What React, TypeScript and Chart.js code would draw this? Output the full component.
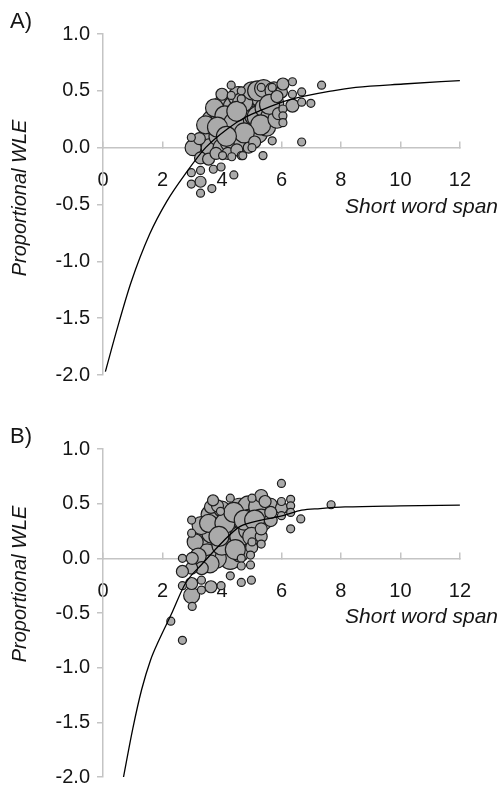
import React, { useEffect, useRef } from 'react';
import { Chart, registerables } from 'chart.js';
Chart.register(...registerables);

const FONT = '"Liberation Sans", Arial, Helvetica, sans-serif';

// X tick values / labels
const X_TICKS = [0, 2, 4, 6, 8, 10, 12];
const Y_TICKS = [-2.0, -1.5, -1.0, -0.5, 0.0, 0.5, 1.0];

// ---------- Panel A ----------
const A_BIG_X = [3.3, 3.6, 3.6, 3.66, 3.9, 3.95, 4.0, 4.07, 4.18, 4.28, 4.3, 4.38, 4.49, 4.6, 4.7, 4.8, 4.9, 4.9, 5.01, 5.1, 5.22, 5.22, 5.32, 5.45, 5.58, 5.64, 5.74, 5.5, 3.45, 3.75, 4.1, 4.55, 4.7, 4.4, 5.0, 5.2, 5.4, 5.75, 5.3, 4.75, 5.85, 3.85, 4.15, 4.5, 5.6];
const A_BIG_Y = [0.05, 0.12, 0.0, 0.24, 0.1, 0.3, 0.0, 0.4, 0.21, 0.05, 0.3, 0.36, 0.15, 0.27, 0.05, 0.36, 0.18, 0.42, 0.39, 0.28, 0.27, 0.12, 0.45, 0.35, 0.47, 0.27, 0.39, 0.18, 0.2, 0.35, 0.28, 0.45, 0.4, 0.22, 0.5, 0.5, 0.52, 0.5, 0.2, 0.13, 0.25, 0.18, 0.1, 0.32, 0.38];
const A_BIG_R = [9, 10, 9, 10, 10, 10, 9, 9, 11, 10, 10, 10, 11, 11, 9, 10, 10, 9, 11, 10, 11, 9, 11, 10, 11, 10, 10, 9, 9, 9, 10, 10, 10, 10, 9, 10, 9, 9, 10, 10, 9, 10, 10, 10, 10];

const A_MED_X = [3.03, 3.24, 3.28, 3.28, 3.55, 3.8, 4.2, 4.0, 4.5, 4.9, 5.1, 6.0, 6.05, 6.37, 5.9, 5.85];
const A_MED_Y = [0.0, 0.08, -0.09, -0.3, -0.1, -0.05, -0.05, 0.47, -0.02, 0.0, 0.05, 0.49, 0.56, 0.37, 0.3, 0.45];
const A_MED_R = [8, 6, 6, 5.5, 6, 6, 6, 6, 6, 5.5, 6, 6, 6, 6.5, 6, 6];

const A_SMALL_X = [2.97, 3.28, 2.97, 2.97, 3.28, 3.66, 3.71, 3.97, 4.02, 4.33, 4.4, 4.65, 4.31, 4.31, 4.65, 4.65, 5.69, 5.32, 6.37, 7.35, 6.68, 6.37, 6.68, 6.99, 6.05, 6.05, 6.05, 5.69, 6.68, 5.38, 5.01, 4.7];
const A_SMALL_Y = [0.09, -0.2, -0.22, -0.32, -0.4, -0.36, -0.19, -0.17, -0.07, -0.08, -0.24, -0.07, 0.55, 0.46, 0.5, 0.43, 0.53, 0.53, 0.58, 0.55, 0.49, 0.47, 0.4, 0.39, 0.34, 0.28, 0.22, 0.06, 0.05, -0.07, 0.0, -0.07];

const A_CURVE_X = [0.08, 0.48, 0.95, 1.57, 2.15, 2.77, 3.45, 4.18, 4.8, 5.32, 6.26, 7.72, 8.5, 10.1, 12.0];
const A_CURVE_Y = [-1.97, -1.59, -1.18, -0.76, -0.47, -0.23, 0.0, 0.165, 0.27, 0.33, 0.42, 0.5, 0.53, 0.56, 0.59];

// ---------- Panel B ----------
const B_BIG_X = [3.34, 3.66, 3.87, 4.28, 4.28, 4.6, 4.6, 4.9, 4.96, 4.9, 5.27, 5.32, 4.28, 3.81, 3.5, 3.1, 3.6, 4.0, 4.6, 4.0, 2.98, 3.3, 3.55, 4.1, 4.4, 3.9, 4.75, 5.1, 4.45, 3.6, 5.0, 3.2];
const B_BIG_Y = [0.17, 0.23, 0.35, 0.32, 0.2, 0.44, 0.2, 0.47, 0.35, 0.26, 0.47, 0.35, 0.0, 0.0, 0.05, 0.15, 0.4, 0.12, 0.05, 0.45, -0.34, 0.3, 0.32, 0.32, 0.42, 0.2, 0.35, 0.35, 0.08, -0.05, 0.2, 0.02];
const B_BIG_R = [10, 10, 10, 11, 11, 12, 10, 11, 11, 10, 11, 11, 11, 10, 9, 8, 9, 10, 9, 8, 8, 9, 9, 10, 10, 10, 10, 10, 10, 9, 9, 8];

const B_MED_X = [3.63, 5.32, 5.64, 6.0, 5.64, 5.32, 3.32, 2.98, 2.67, 2.98, 3.63, 3.0, 5.0, 5.32, 5.64, 5.45, 3.85, 3.7];
const B_MED_Y = [0.47, 0.57, 0.49, 0.46, 0.35, 0.2, -0.09, -0.09, -0.12, -0.23, -0.26, 0.0, 0.1, 0.27, 0.42, 0.52, 0.48, 0.53];
const B_MED_R = [6.5, 6.5, 6.5, 6, 6.5, 6, 6.5, 6, 6, 6, 6, 6, 6, 6, 6, 6, 6, 5.5];

const B_SMALL_X = [6.0, 5.01, 4.28, 3.95, 2.98, 2.98, 6.0, 6.31, 6.31, 6.31, 6.0, 6.65, 6.31, 7.67, 5.32, 5.01, 4.65, 4.65, 4.96, 4.28, 4.65, 4.99, 3.97, 2.67, 2.67, 3.31, 3.31, 3.0, 2.28, 2.67, 4.96];
const B_SMALL_Y = [0.685, 0.55, 0.55, 0.43, 0.35, 0.23, 0.52, 0.54, 0.48, 0.42, 0.39, 0.36, 0.27, 0.49, 0.13, 0.15, 0.0, -0.07, -0.06, -0.16, -0.22, -0.2, -0.25, 0.0, -0.25, -0.2, -0.29, -0.44, -0.575, -0.75, 0.03];

const B_CURVE_X = [0.69, 1.0, 1.3, 1.6, 1.88, 2.3, 2.77, 3.34, 4.02, 4.6, 5.32, 6.05, 6.68, 7.3, 8.14, 10.0, 12.0];
const B_CURVE_Y = [-2.0, -1.56, -1.2, -0.93, -0.75, -0.51, -0.23, -0.05, 0.15, 0.29, 0.35, 0.39, 0.44, 0.455, 0.47, 0.48, 0.486];

const SMALL_R = 4;
const AXIS_COLOR = '#c4c4c4';
const TEXT_COLOR = '#151515';

function buildBubbles(xs: number[], ys: number[], rs: number[] | null) {
  return xs.map((x, i) => ({ x, y: ys[i], r: rs ? rs[i] : SMALL_R }));
}

type PanelProps = {
  label: string;
  top: number;
  height: number;
  padTop: number;
  padBottom: number;
  yTitleOffset: number;
  bigX: number[]; bigY: number[]; bigR: number[];
  medX: number[]; medY: number[]; medR: number[];
  smallX: number[]; smallY: number[];
  curveX: number[]; curveY: number[];
};

function Panel(p: PanelProps) {
  const ref = useRef<HTMLCanvasElement | null>(null);
  useEffect(() => {
    if (!ref.current) return;
    const bubbles = [
      ...buildBubbles(p.bigX, p.bigY, p.bigR),
      ...buildBubbles(p.medX, p.medY, p.medR),
      ...buildBubbles(p.smallX, p.smallY, null),
    ];
    const curve = p.curveX.map((x, i) => ({ x, y: p.curveY[i] }));
    const textPlugin = {
      id: 'panelText',
      afterDraw(chart: any) {
        const ctx = chart.ctx;
        const area = chart.chartArea;
        const axisY = chart.scales.y.getPixelForValue(0);
        ctx.save();
        ctx.fillStyle = TEXT_COLOR;
        ctx.textBaseline = 'alphabetic';
        ctx.font = `22px ${FONT}`;
        ctx.textAlign = 'left';
        ctx.fillText(p.label, 10, area.top - 6);
        ctx.font = `italic 21px ${FONT}`;
        ctx.textAlign = 'right';
        ctx.fillText('Short word span', 498, axisY + 65);
        ctx.translate(20, area.top + p.yTitleOffset);
        ctx.rotate(-Math.PI / 2);
        ctx.textAlign = 'center';
        ctx.textBaseline = 'middle';
        ctx.font = `italic 20px ${FONT}`;
        ctx.fillText('Proportional WLE', 0, 0);
        ctx.restore();
      },
    };
    const chart = new Chart(ref.current, {
      type: 'bubble',
      data: {
        datasets: [
          {
            type: 'line',
            data: curve,
            borderColor: '#000',
            borderWidth: 1.3,
            pointRadius: 0,
            fill: false,
            cubicInterpolationMode: 'monotone',
          } as any,
          {
            type: 'bubble',
            data: bubbles,
            backgroundColor: '#aaaaaa',
            borderColor: '#1c1c1c',
            borderWidth: 1.2,
          } as any,
        ],
      },
      options: {
        animation: false,
        responsive: false,
        events: [],
        layout: { padding: { top: p.padTop, bottom: p.padBottom, left: 0, right: 11 } },
        plugins: { legend: { display: false }, tooltip: { enabled: false } },
        scales: {
          x: {
            type: 'linear',
            position: { y: 0 } as any,
            min: 0,
            max: 12,
            afterBuildTicks: (s: any) => { s.ticks = X_TICKS.map((v) => ({ value: v })); },
            ticks: {
              color: TEXT_COLOR,
              font: { family: FONT, size: 20 },
              padding: 28,
              maxRotation: 0,
              autoSkip: false,
              callback: (v: any) => String(v),
            },
            grid: { drawOnChartArea: false, drawTicks: true, tickLength: -7, color: AXIS_COLOR, lineWidth: 1.5 },
            border: { color: AXIS_COLOR, width: 1.5 },
          },
          y: {
            type: 'linear',
            position: 'left',
            min: -2,
            max: 1,
            afterBuildTicks: (s: any) => { s.ticks = Y_TICKS.map((v) => ({ value: v })); },
            afterFit: (s: any) => { s.width = 103; },
            ticks: {
              color: TEXT_COLOR,
              font: { family: FONT, size: 20 },
              padding: 7,
              autoSkip: false,
              callback: (v: any) => Number(v).toFixed(1),
            },
            grid: { drawOnChartArea: false, drawTicks: true, tickLength: 6, color: AXIS_COLOR, lineWidth: 1.5 },
            border: { color: AXIS_COLOR, width: 1.5 },
          },
        },
      } as any,
      plugins: [textPlugin],
    });
    return () => chart.destroy();
  }, []);
  return (
    <canvas
      ref={ref}
      width={499}
      height={p.height}
      style={{ position: 'absolute', left: 0, top: p.top, display: 'block', width: 499, height: p.height }}
    />
  );
}

export default function App() {
  return (
    <div style={{ position: 'absolute', left: 0, top: 0, width: 499, height: 787, background: '#fff', overflow: 'hidden' }}>
      <Panel label="A)" top={0} height={394} padTop={34} padBottom={0} yTitleOffset={164}
        bigX={A_BIG_X} bigY={A_BIG_Y} bigR={A_BIG_R}
        medX={A_MED_X} medY={A_MED_Y} medR={A_MED_R}
        smallX={A_SMALL_X} smallY={A_SMALL_Y}
        curveX={A_CURVE_X} curveY={A_CURVE_Y} />
      <Panel label="B)" top={394} height={402} padTop={55} padBottom={0} yTitleOffset={135}
        bigX={B_BIG_X} bigY={B_BIG_Y} bigR={B_BIG_R}
        medX={B_MED_X} medY={B_MED_Y} medR={B_MED_R}
        smallX={B_SMALL_X} smallY={B_SMALL_Y}
        curveX={B_CURVE_X} curveY={B_CURVE_Y} />
    </div>
  );
}
